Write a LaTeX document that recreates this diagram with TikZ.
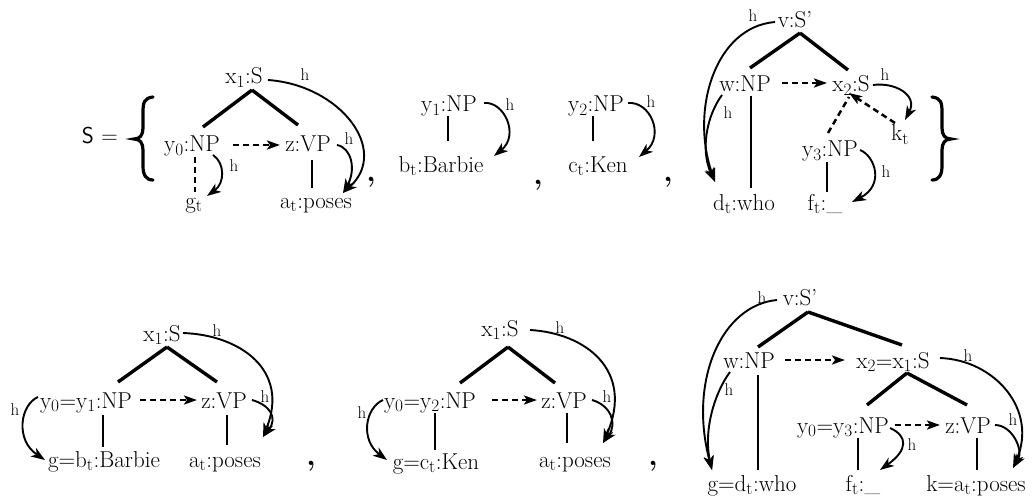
\documentclass[tikz,border=0pt]{standalone}
\usetikzlibrary{arrows.meta}
\newcommand\sbs[1]{$_{\mathrm{#1}}$}
\begin{document}
\begin{tikzpicture}[x=1pt,y=-1pt,
 lab/.style={anchor=base, inner sep=0pt, font=\fontsize{23}{27}\selectfont},
 hl/.style={inner sep=0pt, font=\fontsize{17}{20}\selectfont},
 branch/.style={line width=3.4pt},
 stem/.style={line width=2.1pt},
 dln/.style={line width=2.5pt, dash pattern=on 6pt off 4pt},
 darr/.style={dln, -{Stealth[length=13pt,width=9pt,inset=3pt]}},
 harc/.style={line width=1.9pt, -{Stealth[length=14pt,width=10pt,inset=4pt]}},
 brace/.style={line width=3.2pt, line cap=round},
 commamark/.style={anchor=base, inner sep=0pt, font=\fontsize{30}{34}\selectfont\bfseries},
]
\useasboundingbox (0,0) rectangle (1036,500);

% ---------- top row ----------
\node[lab, font=\fontsize{23}{27}\selectfont\sffamily] (Seq) at (100,143) {S =};
\draw[brace] (153,97) .. controls (144,98) and (143,103) .. (143,112) -- (143,128) .. controls (143,135) and (140,139) .. (134,139) .. controls (140,139) and (143,143) .. (143,150) -- (143,166) .. controls (143,175) and (146,180) .. (153,180);
\draw[brace] (932,97) .. controls (941,98) and (942,103) .. (942,112) -- (942,128) .. controls (942,135) and (945,139) .. (951,139) .. controls (945,139) and (942,143) .. (942,150) -- (942,166) .. controls (942,175) and (939,180) .. (932,180);

% tree 1
\node[lab] (x1) at (244,84) {x\sbs{1}:S};
\node[lab] (y0) at (192,152) {y\sbs{0}:NP};
\node[lab] (z) at (308,152) {z:VP};
\node[lab] (gt) at (194,208) {g\sbs{t}};
\node[lab] (at) at (316,208) {a\sbs{t}:poses};
\draw[branch] ([shift={(8,6)}]x1.base) -- ([shift={(11,-25)}]y0.base);
\draw[branch] ([shift={(8,6)}]x1.base) -- ([shift={(-10,-27)}]z.base);
\draw[darr] ([shift={(41,-7)}]y0.base) -- ([shift={(-28,-7)}]z.base);
\draw[dln] ([shift={(3,5)}]y0.base) -- ([shift={(1,-16)}]gt.base);
\draw[stem] ([shift={(4,8)}]z.base) -- ([shift={(-4,-20)}]at.base);
\draw[harc] ([shift={(24,-4)}]x1.base) .. controls +(72,5) and +(47,-43) .. ([shift={(27,-15)}]at.base);
\draw[harc] ([shift={(29,-7)}]z.base) .. controls +(15,3) and +(13,-23) .. ([shift={(27,-15)}]at.base);
\draw[harc] ([shift={(21,3)}]y0.base) .. controls +(12,8) and +(18,-13) .. ([shift={(13,-12)}]gt.base);
\node[hl] (h1) at (305,75) {h};
\node[hl] (h2) at (349,139) {h};
\node[hl] (h3) at (234,166) {h};
\node[commamark] (c1) at (371,182) {,};

% tree 2
\node[lab] (y1) at (449,112) {y\sbs{1}:NP};
\node[lab] (bt) at (441,172) {b\sbs{t}:Barbie};
\draw[stem] ([shift={(-1,4)}]y1.base) -- ([shift={(7,-31)}]bt.base);
\draw[harc] ([shift={(35,-9)}]y1.base) .. controls +(20,-2) and +(26,-21) .. ([shift={(53,-16)}]bt.base);
\node[hl] (h4) at (510,105) {h};
\node[commamark] (c2) at (538,184) {,};

% tree 3
\node[lab] (y2) at (596,112) {y\sbs{2}:NP};
\node[lab] (ct) at (598,172) {c\sbs{t}:Ken};
\draw[stem] ([shift={(-3,4)}]y2.base) -- ([shift={(-5,-31)}]ct.base);
\draw[harc] ([shift={(32,-9)}]y2.base) .. controls +(22,-2) and +(26,-22) .. ([shift={(41,-15)}]ct.base);
\node[hl] (h5) at (651,102) {h};
\node[commamark] (c3) at (668,182) {,};

% tree 4
\node[lab] (vS) at (795,28) {v:S'};
\node[lab] (w) at (745,92) {w:NP};
\node[lab] (x2) at (851,92) {x\sbs{2}:S};
\node[lab] (kt) at (900,141) {k\sbs{t}};
\node[lab] (y3) at (830,157) {y\sbs{3}:NP};
\node[lab] (dt) at (744,210) {d\sbs{t}:who};
\node[lab] (ft) at (825,210) {f\sbs{t}:\_};
\draw[branch] ([shift={(5,5)}]vS.base) -- ([shift={(5,-24)}]w.base);
\draw[branch] ([shift={(5,5)}]vS.base) -- ([shift={(-3,-22)}]x2.base);
\draw[darr] ([shift={(37,-9)}]w.base) -- ([shift={(-24,-9)}]x2.base);
\draw[darr] ([shift={(-5,-18)}]kt.base) -- ([shift={(-2,1)}]x2.base);
\draw[dln] ([shift={(-2,-24)}]y3.base) -- ([shift={(-2,5)}]x2.base);
\draw[stem] ([shift={(6,4)}]w.base) -- ([shift={(7,-22)}]dt.base);
\draw[stem] ([shift={(-3,5)}]y3.base) -- ([shift={(2,-18)}]ft.base);
\draw[harc] ([shift={(22,-7)}]x2.base) .. controls +(22,-3) and +(13,-25) .. ([shift={(5,-21)}]kt.base);
\draw[harc] ([shift={(30,-7)}]y3.base) .. controls +(15,6) and +(33,-17) .. ([shift={(27,-8)}]ft.base);
\draw[harc] ([shift={(-23,3)}]w.base) .. controls +(-15,20) and +(-15,-32) .. ([shift={(-29,-28)}]dt.base);
\draw[harc] ([shift={(-20,-6)}]vS.base) .. controls +(-60,5) and +(-25,-72) .. ([shift={(-29,-28)}]dt.base);
\node[hl] (h6) at (885,75) {h};
\node[hl] (h7) at (886,172) {h};
\node[hl] (h8) at (728,113) {h};
\node[hl] (h9) at (753,16) {h};

% ---------- bottom row ----------
% tree B1
\node[lab] (x1b) at (162,341) {x\sbs{1}:S};
\node[lab] (yb1) at (86,408) {y\sbs{0}=y\sbs{1}:NP};
\node[lab] (zb1) at (224,408) {z:VP};
\node[lab] (gb1) at (104,467) {g=b\sbs{t}:Barbie};
\node[lab] (ab1) at (225,467) {a\sbs{t}:poses};
\draw[branch] ([shift={(5,6)}]x1b.base) -- ([shift={(32,-26)}]yb1.base);
\draw[branch] ([shift={(5,6)}]x1b.base) -- ([shift={(-7,-26)}]zb1.base);
\draw[darr] ([shift={(54,-8)}]yb1.base) -- ([shift={(-27,-8)}]zb1.base);
\draw[stem] ([shift={(17,7)}]yb1.base) -- ([shift={(-1,-20)}]gb1.base);
\draw[stem] ([shift={(3,7)}]zb1.base) -- ([shift={(2,-22)}]ab1.base);
\draw[harc] ([shift={(21,-8)}]x1b.base) .. controls +(57,2) and +(27,-67) .. ([shift={(38,-30)}]ab1.base);
\draw[harc] ([shift={(28,-8)}]zb1.base) .. controls +(18,5) and +(15,-19) .. ([shift={(38,-30)}]ab1.base);
\draw[harc] ([shift={(-48,-11)}]yb1.base) .. controls +(-18,8) and +(-30,-20) .. ([shift={(-59,-7)}]gb1.base);
\node[hl] (h10) at (217,331) {h};
\node[hl] (h11) at (265,397) {h};
\node[hl] (h12) at (15,410) {h};
\node[commamark] (c4) at (311,465) {,};

% tree B2
\node[lab] (x1c) at (500,336) {x\sbs{1}:S};
\node[lab] (yc) at (430,408) {y\sbs{0}=y\sbs{2}:NP};
\node[lab] (zc) at (564,408) {z:VP};
\node[lab] (gc) at (436,469) {g=c\sbs{t}:Ken};
\node[lab] (ac) at (575,467) {a\sbs{t}:poses};
\draw[branch] ([shift={(8,11)}]x1c.base) -- ([shift={(30,-25)}]yc.base);
\draw[branch] ([shift={(8,11)}]x1c.base) -- ([shift={(-9,-25)}]zc.base);
\draw[darr] ([shift={(62,-8)}]yc.base) -- ([shift={(-27,-8)}]zc.base);
\draw[stem] ([shift={(5,5)}]yc.base) -- ([shift={(-1,-19)}]gc.base);
\draw[stem] ([shift={(3,5)}]zc.base) -- ([shift={(-8,-24)}]ac.base);
\draw[harc] ([shift={(30,-6)}]x1c.base) .. controls +(55,3) and +(32,-73) .. ([shift={(28,-24)}]ac.base);
\draw[harc] ([shift={(28,-8)}]zc.base) .. controls +(18,5) and +(15,-20) .. ([shift={(28,-24)}]ac.base);
\draw[harc] ([shift={(-47,-8)}]yc.base) .. controls +(-18,8) and +(-27,-20) .. ([shift={(-49,-9)}]gc.base);
\node[hl] (h13) at (560,328) {h};
\node[hl] (h14) at (607,397) {h};
\node[hl] (h15) at (362,413) {h};
\node[commamark] (c5) at (653,465) {,};

% tree B3
\node[lab] (vSb) at (800,305) {v:S'};
\node[lab] (wb) at (749,368) {w:NP};
\node[lab] (x2b) at (893,368) {x\sbs{2}=x\sbs{1}:S};
\node[lab] (y3b) at (843,433) {y\sbs{0}=y\sbs{3}:NP};
\node[lab] (zb) at (968,433) {z:VP};
\node[lab] (gd) at (752,491) {g=d\sbs{t}:who};
\node[lab] (ftb) at (863,491) {f\sbs{t}:\_};
\node[lab] (kb) at (976,491) {k=a\sbs{t}:poses};
\draw[branch] ([shift={(8,7)}]vSb.base) -- ([shift={(9,-21)}]wb.base);
\draw[branch] ([shift={(8,7)}]vSb.base) -- ([shift={(9,-23)}]x2b.base);
\draw[branch] ([shift={(14,5)}]x2b.base) -- ([shift={(24,-28)}]y3b.base);
\draw[branch] ([shift={(14,5)}]x2b.base) -- ([shift={(-1,-28)}]zb.base);
\draw[darr] ([shift={(36,-8)}]wb.base) -- ([shift={(-48,-8)}]x2b.base);
\draw[darr] ([shift={(52,-8)}]y3b.base) -- ([shift={(-28,-8)}]zb.base);
\draw[stem] ([shift={(9,7)}]wb.base) -- ([shift={(6,-21)}]gd.base);
\draw[stem] ([shift={(15,5)}]y3b.base) -- ([shift={(-5,-21)}]ftb.base);
\draw[stem] ([shift={(9,5)}]zb.base) -- ([shift={(1,-21)}]kb.base);
\draw[harc] ([shift={(47,-10)}]x2b.base) .. controls +(55,2) and +(25,-58) .. ([shift={(37,-23)}]kb.base);
\draw[harc] ([shift={(27,-8)}]zb.base) .. controls +(17,0) and +(11,-18) .. ([shift={(37,-23)}]kb.base);
\draw[harc] ([shift={(47,-5)}]y3b.base) .. controls +(18,8) and +(28,-20) .. ([shift={(17,-21)}]ftb.base);
\draw[harc] ([shift={(-19,4)}]wb.base) .. controls +(-15,20) and +(-9,-40) .. ([shift={(-40,-21)}]gd.base);
\draw[harc] ([shift={(-23,-5)}]vSb.base) .. controls +(-55,5) and +(-24,-90) .. ([shift={(-40,-21)}]gd.base);
\node[hl] (h16) at (968,356) {h};
\node[hl] (h17) at (1013,420) {h};
\node[hl] (h18) at (912,445) {h};
\node[hl] (h19) at (729,390) {h};
\node[hl] (h20) at (762,298) {h};
\end{tikzpicture}
\end{document}
